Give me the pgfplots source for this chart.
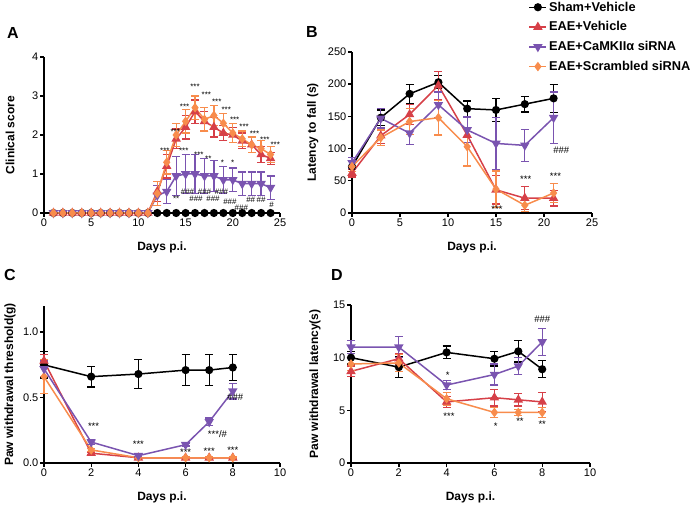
\documentclass[border=0pt]{standalone}
\usepackage{fontspec}
\setmainfont{Liberation Sans}
\usepackage{pgfplots}
\pgfplotsset{compat=1.18}
\definecolor{cred}{RGB}{214,64,72}
\definecolor{cpurple}{RGB}{122,84,176}
\definecolor{corange}{RGB}{248,140,76}
\pgfplotsset{
  panel/.style={
    scale only axis,
    axis lines=left,
    axis line style={-, line width=2pt},
    tick align=outside,
    major tick length=4pt,
    tick style={line width=1.4pt, black},
    clip=false,
    /pgf/number format/assume math mode=true,
    ticklabel style={font=\fontsize{11}{12}\selectfont, inner sep=1.5pt},
    label style={font=\bfseries\fontsize{12}{14}\selectfont},
  },
  errstyle/.style={error bars/.cd, y dir=both, y explicit, error mark=-,
    error mark options={rotate=90, mark size=4pt, line width=1.3pt},
    error bar style={line width=1.3pt}},
  sBlack/.style={color=black, line width=1.5pt, mark=*, mark size=3.3pt, errstyle},
  sRed/.style={color=cred, line width=1.5pt, mark=triangle*, mark size=4pt, errstyle},
  sPurple/.style={color=cpurple, line width=1.5pt, mark=triangle*, mark options={rotate=180}, mark size=4pt, errstyle},
  sOrange/.style={color=corange, line width=1.5pt, mark=diamond*, mark size=3.6pt, errstyle},
}
\newcommand{\ann}[3]{\node[font=\fontsize{9.5}{10}\selectfont, inner sep=0pt] at (axis cs:#1,#2) {#3};}
\newcommand{\anns}[3]{\node[font=\fontsize{8}{9}\selectfont, inner sep=0pt] at (axis cs:#1,#2) {#3};}
\begin{document}
\begin{tikzpicture}
\useasboundingbox (0,0) rectangle (700pt,505pt);
% ---------------- Panel A
\begin{axis}[panel, at={(44pt,292pt)}, anchor=south west,
  width=236pt, height=156pt, xmin=0, xmax=25, ymin=0, ymax=4,
  xtick={0,5,...,25}, ytick={0,1,2,3,4},
  xlabel={Days p.i.}, ylabel={Clinical score},
  xlabel style={at={(axis description cs:0.5,-0.218)}, anchor=center},
  ylabel style={at={(axis description cs:-0.144,0.5)}, anchor=center}]
\addplot[sBlack] coordinates {(1,0) +- (0,0) (2,0) +- (0,0) (3,0) +- (0,0) (4,0) +- (0,0) (5,0) +- (0,0) (6,0) +- (0,0) (7,0) +- (0,0) (8,0) +- (0,0) (9,0) +- (0,0) (10,0) +- (0,0) (11,0) +- (0,0) (12,0) +- (0,0) (13,0) +- (0,0) (14,0) +- (0,0) (15,0) +- (0,0) (16,0) +- (0,0) (17,0) +- (0,0) (18,0) +- (0,0) (19,0) +- (0,0) (20,0) +- (0,0) (21,0) +- (0,0) (22,0) +- (0,0) (23,0) +- (0,0) (24,0) +- (0,0)};
\addplot[sPurple] coordinates {(1,0) +- (0,0) (2,0) +- (0,0) (3,0) +- (0,0) (4,0) +- (0,0) (5,0) +- (0,0) (6,0) +- (0,0) (7,0) +- (0,0) (8,0) +- (0,0) (9,0) +- (0,0) (10,0) +- (0,0) (11,0) +- (0,0) (12,0.45) +- (0,0.25) (13,0.55) +- (0,0.3) (14,0.95) +- (0,0.5) (15,1.0) +- (0,0.5) (16,1.0) +- (0,0.5) (17,0.95) +- (0,0.45) (18,0.95) +- (0,0.4) (19,0.85) +- (0,0.35) (20,0.85) +- (0,0.3) (21,0.75) +- (0,0.3) (22,0.75) +- (0,0.3) (23,0.75) +- (0,0.3) (24,0.65) +- (0,0.3)};
\addplot[sRed] coordinates {(1,0) +- (0,0) (2,0) +- (0,0) (3,0) +- (0,0) (4,0) +- (0,0) (5,0) +- (0,0) (6,0) +- (0,0) (7,0) +- (0,0) (8,0) +- (0,0) (9,0) +- (0,0) (10,0) +- (0,0) (11,0) +- (0,0) (12,0.55) +- (0,0.25) (13,1.2) +- (0,0.3) (14,1.9) +- (0,0.25) (15,2.2) +- (0,0.3) (16,2.6) +- (0,0.3) (17,2.35) +- (0,0.25) (18,2.2) +- (0,0.25) (19,2.05) +- (0,0.2) (20,2.0) +- (0,0.2) (21,1.85) +- (0,0.2) (22,1.75) +- (0,0.2) (23,1.5) +- (0,0.2) (24,1.4) +- (0,0.15)};
\addplot[sOrange] coordinates {(1,0) +- (0,0) (2,0) +- (0,0) (3,0) +- (0,0) (4,0) +- (0,0) (5,0) +- (0,0) (6,0) +- (0,0) (7,0) +- (0,0) (8,0) +- (0,0) (9,0) +- (0,0) (10,0) +- (0,0) (11,0) +- (0,0) (12,0.5) +- (0,0.3) (13,1.3) +- (0,0.3) (14,2.0) +- (0,0.3) (15,2.35) +- (0,0.3) (16,2.7) +- (0,0.3) (17,2.4) +- (0,0.3) (18,2.5) +- (0,0.25) (19,2.3) +- (0,0.25) (20,2.05) +- (0,0.25) (21,1.9) +- (0,0.2) (22,1.75) +- (0,0.2) (23,1.65) +- (0,0.2) (24,1.5) +- (0,0.2)};
\anns{16.0}{3.24}{***}\anns{17.2}{3.02}{***}\anns{18.3}{2.86}{***}\anns{19.3}{2.64}{***}
\anns{20.2}{2.38}{***}\anns{21.2}{2.2}{***}\anns{22.3}{2.02}{***}\anns{23.4}{1.88}{***}\anns{24.5}{1.76}{***}
\anns{14.9}{2.73}{***}\anns{13.9}{2.08}{***}\anns{12.8}{1.6}{***}\anns{14.8}{1.6}{***}
\anns{16.4}{1.5}{***}\anns{17.4}{1.4}{**}\anns{18.9}{1.28}{*}\anns{20.0}{1.28}{*}
\anns{15.2}{0.55}{\#\#\#}\anns{17.0}{0.55}{\#\#\#}\anns{18.8}{0.55}{\#\#\#}
\anns{14.0}{0.37}{**}\anns{16.1}{0.37}{\#\#\#}\anns{17.9}{0.37}{\#\#\#}\anns{19.7}{0.3}{\#\#\#}
\anns{20.9}{0.13}{\#\#\#}\anns{21.9}{0.35}{\#\#}\anns{23.0}{0.35}{\#\#}\anns{24.1}{0.2}{\#}
\end{axis}
% ---------------- Panel B
\begin{axis}[panel, at={(352pt,292pt)}, anchor=south west,
  width=240pt, height=161pt, xmin=0, xmax=25, ymin=0, ymax=250,
  xtick={0,5,...,25}, ytick={0,50,...,250},
  xlabel={Days p.i.}, ylabel={Latency to fall (s)},
  xlabel style={at={(axis description cs:0.5,-0.211)}, anchor=center},
  ylabel style={at={(axis description cs:-0.163,0.5)}, anchor=center},
  legend style={at={(axis description cs:0.735,1.325)}, anchor=north west, draw=none, fill=none,
    font=\bfseries\fontsize{12.8}{14}\selectfont, row sep=5pt, inner sep=0pt},
  legend cell align=left]
\addplot[sBlack] coordinates {(0,72) +- (0,8) (3,148) +- (0,12) (6,185) +- (0,15) (9,203) +- (0,10) (12,162) +- (0,12) (15,160) +- (0,18) (18,169) +- (0,12) (21,178) +- (0,22)};
\addlegendentry{Sham+Vehicle}
\addplot[sRed] coordinates {(0,62) +- (0,6) (3,120) +- (0,12) (6,153) +- (0,16) (9,198) +- (0,22) (12,121) +- (0,12) (15,36) +- (0,22) (18,23) +- (0,18) (21,23) +- (0,12)};
\addlegendentry{EAE+Vehicle}
\addplot[sPurple] coordinates {(0,78) +- (0,8) (3,147) +- (0,15) (6,124) +- (0,18) (9,168) +- (0,20) (12,129) +- (0,20) (15,108) +- (0,40) (18,105) +- (0,25) (21,148) +- (0,40)};
\addlegendentry{EAE+CaMKIIα siRNA}
\addplot[sOrange] coordinates {(0,72) +- (0,8) (3,117) +- (0,12) (6,142) +- (0,20) (9,148) +- (0,27) (12,103) +- (0,30) (15,37) +- (0,28) (18,12) +- (0,10) (21,31) +- (0,15)};
\addlegendentry{EAE+Scrambled siRNA}
\ann{15.1}{6}{***}\ann{18.1}{52}{***}\ann{21.2}{57}{***}\ann{21.8}{98}{\#\#\#}
\end{axis}
% ---------------- Panel C
\begin{axis}[panel, at={(44pt,42pt)}, anchor=south west,
  width=236pt, height=157pt, xmin=0, xmax=10, ymin=0, ymax=1.2,
  xtick={0,2,...,10}, ytick={0,0.5,1.0}, yticklabels={0.0,0.5,1.0},
  xlabel={Days p.i.}, ylabel={Paw withdrawal threshold(g)},
  xlabel style={at={(axis description cs:0.5,-0.217)}, anchor=center},
  ylabel style={at={(axis description cs:-0.144,0.5)}, anchor=center}]
\addplot[sBlack] coordinates {(0,0.75) +- (0,0.1) (2,0.66) +- (0,0.08) (4,0.68) +- (0,0.11) (6,0.71) +- (0,0.12) (7,0.71) +- (0,0.12) (8,0.73) +- (0,0.1)};
\addplot[sRed] coordinates {(0,0.78) +- (0,0.05) (2,0.075) +- (0,0.01) (4,0.04) +- (0,0.005) (6,0.04) +- (0,0.005) (7,0.04) +- (0,0.005) (8,0.04) +- (0,0.005)};
\addplot[sOrange] coordinates {(0,0.66) +- (0,0.13) (2,0.1) +- (0,0.01) (4,0.04) +- (0,0.005) (6,0.04) +- (0,0.005) (7,0.04) +- (0,0.005) (8,0.04) +- (0,0.005)};
\addplot[sPurple] coordinates {(0,0.72) +- (0,0.06) (2,0.16) +- (0,0.02) (4,0.056) +- (0,0.01) (6,0.14) +- (0,0.01) (7,0.315) +- (0,0.03) (8,0.55) +- (0,0.06)};
\ann{2.1}{0.28}{***}\ann{4.0}{0.14}{***}\ann{6.0}{0.086}{***}\ann{7.0}{0.09}{***}\ann{8.0}{0.1}{***}
\ann{7.35}{0.22}{***/\#}\ann{8.1}{0.5}{\#\#\#}
\end{axis}
% ---------------- Panel D
\begin{axis}[panel, at={(351pt,42pt)}, anchor=south west,
  width=239pt, height=158pt, xmin=0, xmax=10, ymin=0, ymax=15,
  xtick={0,2,...,10}, ytick={0,5,10,15},
  xlabel={Days p.i.}, ylabel={Paw withdrawal latency(s)},
  xlabel style={at={(axis description cs:0.5,-0.215)}, anchor=center},
  ylabel style={at={(axis description cs:-0.151,0.5)}, anchor=center}]
\addplot[sBlack] coordinates {(0,10.0) +- (0,0.6) (2,9.1) +- (0,1.0) (4,10.5) +- (0,0.6) (6,9.9) +- (0,0.7) (7,10.6) +- (0,1.0) (8,8.9) +- (0,0.8)};
\addplot[sRed] coordinates {(0,8.7) +- (0,0.5) (2,9.9) +- (0,0.5) (4,5.8) +- (0,0.5) (6,6.2) +- (0,0.8) (7,6.0) +- (0,0.6) (8,5.8) +- (0,0.9)};
\addplot[sOrange] coordinates {(0,9.4) +- (0,0.6) (2,9.5) +- (0,0.8) (4,6.1) +- (0,0.6) (6,4.8) +- (0,0.5) (7,4.8) +- (0,0.3) (8,4.8) +- (0,0.5)};
\addplot[sPurple] coordinates {(0,11.0) +- (0,0.6) (2,11.0) +- (0,1.0) (4,7.4) +- (0,0.4) (6,8.4) +- (0,1.0) (7,9.2) +- (0,0.8) (8,11.5) +- (0,1.3)};
\ann{4.05}{8.3}{*}\ann{4.1}{4.4}{***}\ann{6.05}{3.5}{*}\ann{7.07}{4.0}{**}\ann{8.0}{3.7}{**}\ann{8.0}{13.6}{\#\#\#}
\end{axis}
% panel letters
\node[font=\bfseries\fontsize{16}{18}\selectfont] at (13pt,472pt) {A};
\node[font=\bfseries\fontsize{16}{18}\selectfont] at (312pt,473pt) {B};
\node[font=\bfseries\fontsize{16}{18}\selectfont] at (10pt,230pt) {C};
\node[font=\bfseries\fontsize{16}{18}\selectfont] at (337pt,230pt) {D};
\end{tikzpicture}
\end{document}
